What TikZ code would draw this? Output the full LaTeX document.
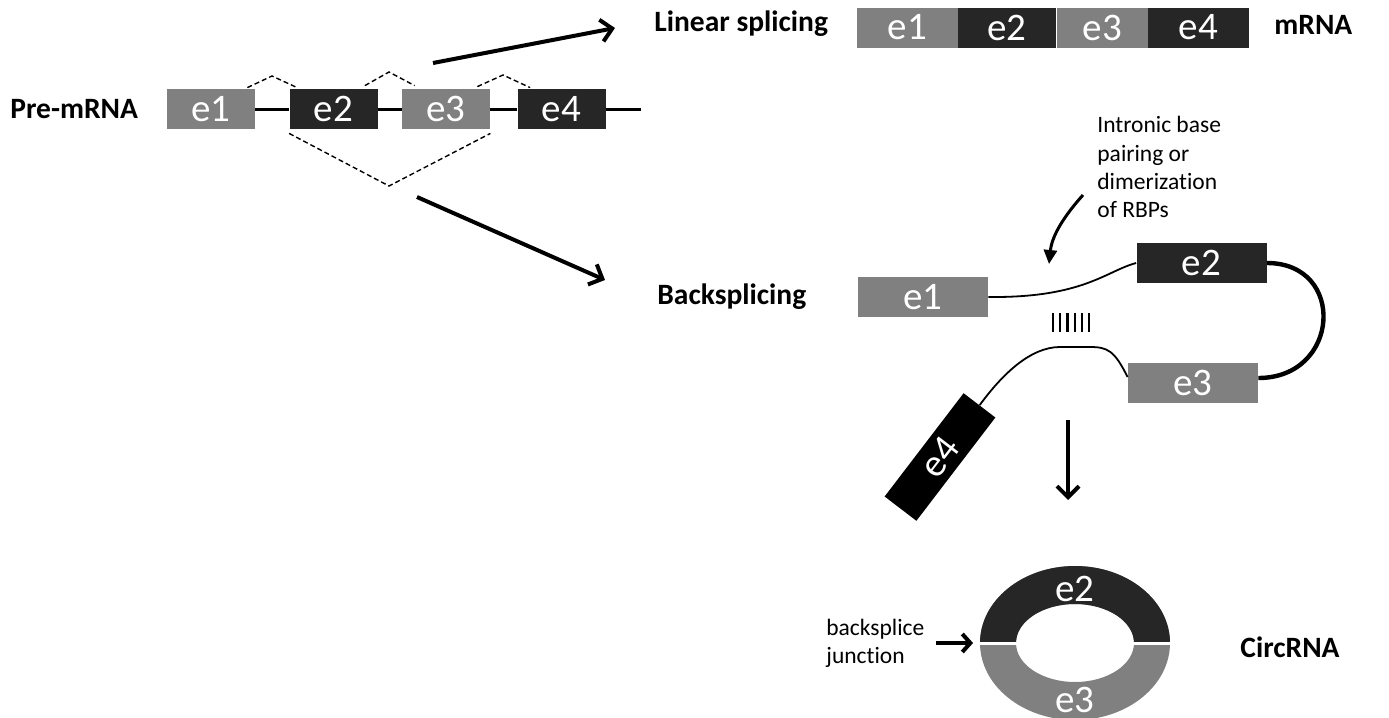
\documentclass[tikz,border=0pt]{standalone}
\usepackage{fontspec}
\setmainfont{Carlito}[Ligatures={NoCommon}]
\usetikzlibrary{arrows.meta,calc}
\definecolor{exdark}{HTML}{262626}
\definecolor{exgray}{HTML}{808080}

\begin{document}
\begin{tikzpicture}[x=0.5pt,y=-0.5pt,
  exon/.style={inner sep=0pt, text=white, font=\fontsize{19.5}{22}\selectfont,
               minimum height=20pt},
  dk/.style={exon, fill=exdark},
  gy/.style={exon, fill=exgray},
  lbl/.style={font=\fontsize{14.75}{17}\selectfont\bfseries, inner sep=0pt},
  note/.style={font=\fontsize{11.75}{14.15}\selectfont, inner sep=0pt, align=left},
  strand/.style={line width=1.5pt},
  splice/.style={dashed, line width=0.7pt, dash pattern=on 2.5pt off 1.5pt},
  bigarrow/.style={line width=2pt, -{Straight Barb[length=5.5pt,width=11pt]}},
  intron/.style={line width=0.9pt},
]
\useasboundingbox (0,0) rectangle (1389,718);

% ---------- pre-mRNA ----------
\node[lbl, anchor=west] (pre) at (10,109) {Pre-mRNA};
\node[gy, minimum width=44pt] (p1) at (211,109) {e1};
\node[dk, minimum width=44pt] (p2) at (333.5,109) {e2};
\node[gy, minimum width=44pt] (p3) at (446,109) {e3};
\node[dk, minimum width=44pt] (p4) at (561.5,109) {e4};
\coordinate (pend) at (641,109);
\draw[strand] (p1.east) -- (p2.west) (p2.east) -- (p3.west)
              (p3.east) -- (p4.west) (p4.east) -- (pend);

% splice junctions
\coordinate (k1) at (272,76);
\coordinate (k2) at (389,72);
\coordinate (k3) at (503,75);
\coordinate (kv) at (389,186);
\draw[splice] ($(p1.north east)+(-8,-1)$) -- (k1) -- ($(p2.north west)+(8,-1)$);
\draw[splice] ($(p2.north east)+(-13,-3)$) -- (k2) -- ($(p3.north west)+(13,-3)$);
\draw[splice] ($(p3.north east)+(-13,-2)$) -- (k3) -- ($(p4.north west)+(13,-1)$);
\draw[splice] ($(p2.south west)+(0,4)$) -- (kv) -- ($(p3.south east)+(0,4)$);

% ---------- linear splicing ----------
\coordinate (la) at (433,63);
\coordinate (lb) at (615,28);
\draw[bigarrow] (la) -- (lb);
\node[lbl, anchor=west] (lin) at (654,24) {Linear splicing};
\node[gy, minimum width=50.5pt] (m1) at (907.5,27.5) {e1};
\node[dk, minimum width=49pt] (m2) at (1007,27.5) {e2};
\node[gy, minimum width=45.5pt] (m3) at (1102.5,27.5) {e3};
\node[dk, minimum width=50.5pt] (m4) at (1198.5,27.5) {e4};
\node[lbl, anchor=west] (mrna) at (1274,25) {mRNA};

% ---------- backsplicing ----------
\coordinate (ba) at (417,197);
\coordinate (bb) at (605,280);
\draw[bigarrow] (ba) -- (bb);
\node[lbl, anchor=west] (back) at (657,297) {Backsplicing};

\node[gy, minimum width=65pt] (b1) at (923,297) {e1};
\node[dk, minimum width=65pt] (b2) at (1201.5,263) {e2};
\node[gy, minimum width=65pt] (b3) at (1193,383) {e3};
\node[exon, fill=black, minimum width=65pt, rotate=52.6] (b4) at (940,457) {e4};

\draw[intron] (b1.east) .. controls +(95,1) and +(-30,8) .. (b2.west);
\draw[line width=2.2pt] (b2.east) .. controls +(80,0) and +(82,0) .. ($(b3.east)+(0,-5)$);
\draw[intron] ($(b3.west)+(0,-6)$) .. controls +(-13,-26) and +(18,0) .. (1090,347)
  -- (1060,347) .. controls +(-30,0) and +(22,-30) .. (b4.east);

% base pairing between the flanking introns
\foreach \i in {0,...,5}
  \draw[line width=1.1pt] (1053+\i*7.2,313) -- ++(0,19);

\node[note, anchor=north west] (why) at (1097,116)
  {Intronic base\\pairing or\\dimerization\\of RBPs};
\coordinate (ca) at (1083,195);
\coordinate (cb) at (1049,264);
\draw[line width=1.5pt, -{Triangle[length=7pt,width=6.5pt]}]
  (ca) .. controls (1065,215) and (1052,235) .. (cb);

\coordinate (da) at (1068,420);
\coordinate (db) at (1068,500);
\draw[bigarrow] (da) -- (db);

% ---------- circRNA ----------
\coordinate (rc) at (1075,643);
\fill[exgray, even odd rule] (rc) ellipse[x radius=47.5pt, y radius=38.5pt]
                             (rc) ellipse[x radius=29.5pt, y radius=19.5pt];
\begin{scope}
  \clip ($(rc)+(-110,-90)$) rectangle ($(rc)+(110,0)$);
  \fill[exdark, even odd rule] (rc) ellipse[x radius=47.5pt, y radius=38.5pt]
                               (rc) ellipse[x radius=29.5pt, y radius=19.5pt];
\end{scope}
\draw[white, line width=1.5pt] ($(rc)+(-100,0)$) -- ($(rc)+(100,0)$);
\node[exon] (c2) at (1075,589) {e2};
\node[exon] (c3) at (1075,700) {e3};

\node[note, anchor=west] (bj) at (826,643) {backsplice\\junction};
\coordinate (ja) at (936,643);
\coordinate (jb) at (973,643);
\draw[line width=2pt, -{Straight Barb[length=4pt,width=9pt]}] (ja) -- (jb);
\node[lbl, anchor=west] (circ) at (1240,647) {CircRNA};
\end{tikzpicture}
\end{document}
